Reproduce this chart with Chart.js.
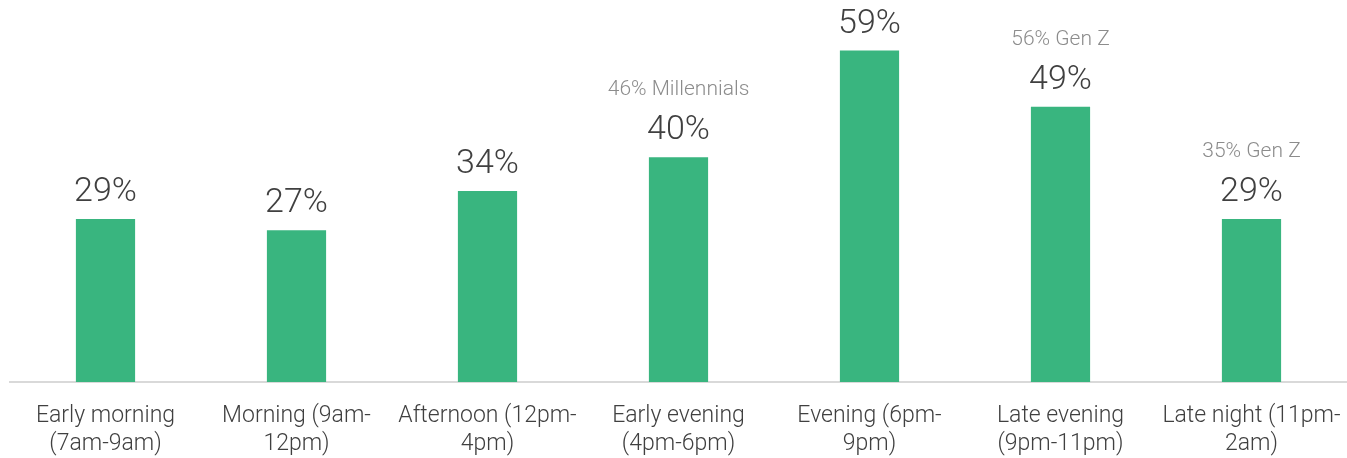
<!DOCTYPE html>
<html>
<head>
<meta charset="utf-8">
<script src="https://cdn.jsdelivr.net/npm/chart.js@4.4.1/dist/chart.umd.min.js"></script>
<style>
  html, body { margin: 0; padding: 0; background: #fff; }
  #wrap { width: 1347px; height: 458px; position: relative; }
</style>
</head>
<body>
<div id="wrap"><canvas id="chart"></canvas></div>
<script>
const categories = [
  ["Early morning", "(7am-9am)"],
  ["Morning (9am-", "12pm)"],
  ["Afternoon (12pm-", "4pm)"],
  ["Early evening", "(4pm-6pm)"],
  ["Evening (6pm-", "9pm)"],
  ["Late evening", "(9pm-11pm)"],
  ["Late night (11pm-", "2am)"]
];
const values = [29, 27, 34, 40, 59, 49, 29];
const notes = ["", "", "", "46% Millennials", "", "56% Gen Z", "35% Gen Z"];

const FONT = "Roboto, 'Liberation Sans', sans-serif";

// value labels + generation notes above each bar
const barLabels = {
  id: "barLabels",
  afterDatasetsDraw(chart) {
    const ctx = chart.ctx;
    const meta = chart.getDatasetMeta(0);
    ctx.save();
    ctx.textAlign = "center";
    ctx.textBaseline = "alphabetic";
    meta.data.forEach((bar, i) => {
      ctx.font = "300 34px " + FONT;
      ctx.fillStyle = "#404040";
      ctx.fillText(values[i] + "%", bar.x, bar.y - 18);
      if (notes[i]) {
        ctx.font = "300 21px " + FONT;
        ctx.fillStyle = "#8c8c8c";
        ctx.fillText(notes[i], bar.x, bar.y - 62);
      }
    });
    ctx.restore();
  }
};

new Chart(document.getElementById("chart"), {
  type: "bar",
  data: {
    labels: categories,
    datasets: [{
      data: values,
      backgroundColor: "#39b57f",
      categoryPercentage: 1,
      barPercentage: 0.31
    }]
  },
  options: {
    responsive: true,
    maintainAspectRatio: false,
    animation: false,
    layout: { padding: { left: 10, right: 0, top: 0, bottom: -20 } },
    plugins: { legend: { display: false }, tooltip: { enabled: false } },
    scales: {
      x: {
        grid: { display: false, drawTicks: false },
        border: { color: "#d9d9d9", width: 2 },
        ticks: {
          color: "#404040",
          font: { family: FONT, size: 23, weight: 300, lineHeight: 1.22 },
          padding: 20,
          maxRotation: 0,
          autoSkip: false
        },
        // labels fit inside their own category, so no extra side padding
        afterFit(scale) {
          scale.paddingLeft = 0;
          scale.paddingRight = 0;
        }
      },
      y: {
        display: false,
        min: 0,
        max: 68
      }
    }
  },
  plugins: [barLabels]
});
</script>
</body>
</html>
